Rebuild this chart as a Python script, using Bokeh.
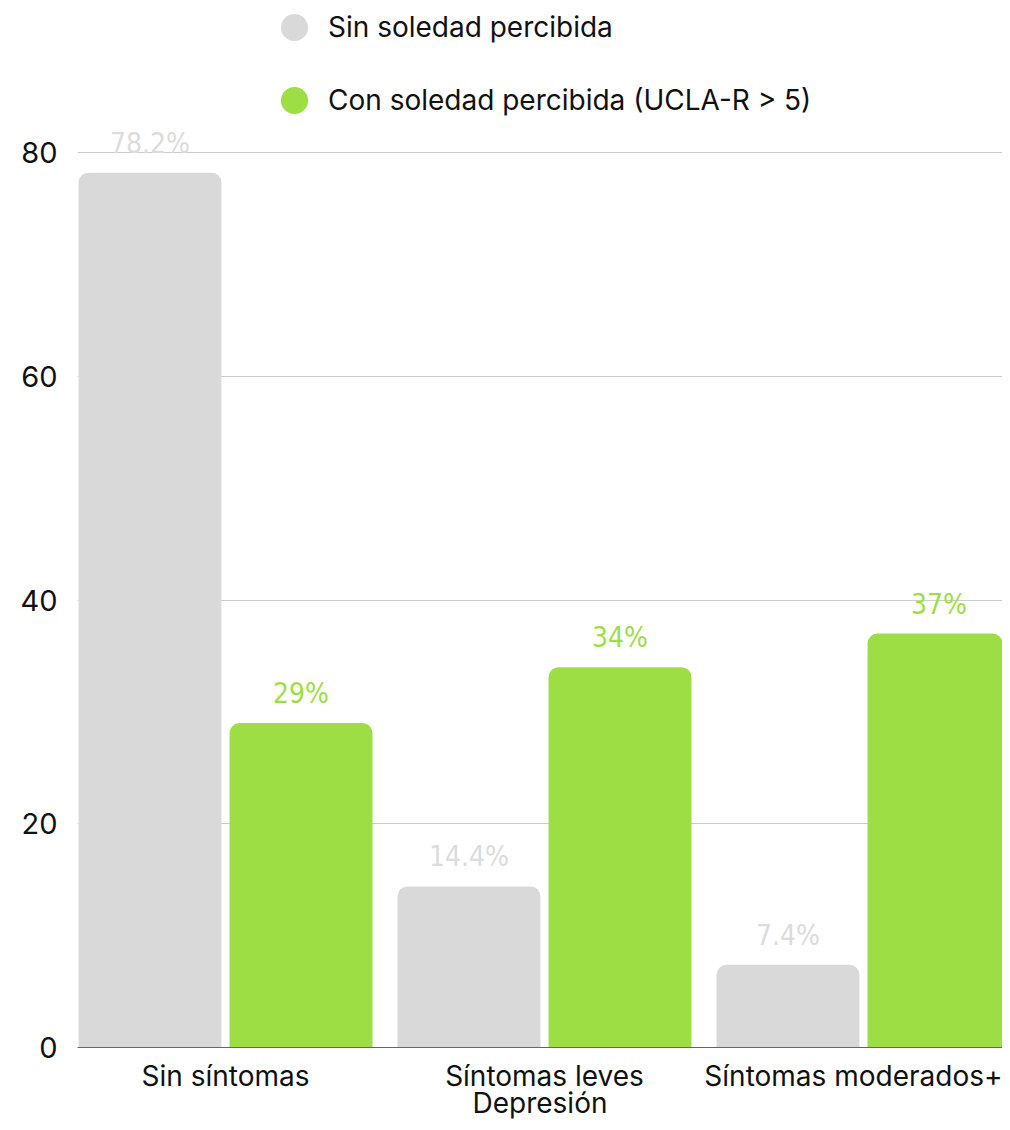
from bokeh.plotting import figure
from bokeh.models import ColumnDataSource, Range1d, FixedTicker, LabelSet, Legend, LegendItem
from bokeh.transform import dodge
from bokeh.embed import file_html
from bokeh.resources import INLINE
from bokeh.core.properties import value

# ---- data ----
categories = ["Sin síntomas", "Síntomas leves", "Síntomas moderados+"]
sin_soledad = [78.2, 14.4, 7.4]
con_soledad = [29, 34, 37]
sin_labels = ["78.2%", "14.4%", "7.4%"]
con_labels = ["29%", "34%", "37%"]
series_names = ["Sin soledad percibida", "Con soledad percibida (UCLA-R > 5)"]
y_ticks = [0, 20, 40, 60, 80]
x_axis_title = "Depresión"

# ---- style ----
GRAY = "#d9d9d9"
GRAY_LABEL = "#dcdcdc"
GREEN = "#9ede45"
FONT = "Inter"
NARROW = "'Noto Sans ExtraCondensed', 'Noto Sans Condensed', 'DejaVu Sans Condensed', sans-serif"
OFF = 0.2367
BW = 0.448

idx = list(range(len(categories)))
src = ColumnDataSource(dict(x=idx, sin=sin_soledad, con=con_soledad,
                            sin_lbl=sin_labels, con_lbl=con_labels))

p = figure(width=1002, height=1122,
           x_range=Range1d(-0.4639, 2.4357), y_range=Range1d(0, 93.59),
           output_backend="svg", toolbar_location=None,
           min_border_left=77, min_border_right=0, min_border_top=0,
           min_border_bottom=75)
p.outline_line_color = None
p.background_fill_color = "white"
p.border_fill_color = "white"

p.vbar(x=dodge("x", -OFF), top="sin", width=BW, source=src,
       fill_color=GRAY, line_color=None, border_radius=(10, 10, 0, 0))
p.vbar(x=dodge("x", OFF), top="con", width=BW, source=src,
       fill_color=GREEN, line_color=None, border_radius=(10, 10, 0, 0))

p.add_layout(LabelSet(x=dodge("x", -OFF), y="sin", text="sin_lbl", source=src,
                      y_offset=20, text_align="center", text_baseline="alphabetic",
                      text_font=value(NARROW), text_font_size=value("28px"),
                      text_color=GRAY_LABEL))
p.add_layout(LabelSet(x=dodge("x", OFF), y="con", text="con_lbl", source=src,
                      y_offset=20, text_align="center", text_baseline="alphabetic",
                      text_font=value(NARROW), text_font_size=value("28px"),
                      text_color=GREEN))

# legend proxies (zero-size markers, only their legend swatches show)
r1 = p.scatter(x=dodge("x", -OFF), y="sin", source=src, size=0, marker="circle",
               fill_color=GRAY, line_color=None)
r2 = p.scatter(x=dodge("x", OFF), y="con", source=src, size=0, marker="circle",
               fill_color=GREEN, line_color=None)
legend = Legend(items=[LegendItem(label=series_names[0], renderers=[r1], index=0),
                       LegendItem(label=series_names[1], renderers=[r2], index=0)],
                location=(183, 913), orientation="vertical",
                glyph_width=68, glyph_height=68, label_height=68, spacing=5,
                label_standoff=0, padding=0, margin=0,
                border_line_color=None, background_fill_alpha=0,
                label_text_font=FONT, label_text_font_size="28px",
                label_text_color="#111111")
p.add_layout(legend)

# axes
p.xgrid.visible = False
p.ygrid.ticker = FixedTicker(ticks=y_ticks)
p.ygrid.grid_line_color = "#cccccc"
p.ygrid.grid_line_width = 1

p.yaxis.ticker = FixedTicker(ticks=y_ticks)
p.yaxis.axis_line_color = None
p.yaxis.major_tick_line_color = None
p.yaxis.minor_tick_line_color = None
p.yaxis.major_label_standoff = 14
p.yaxis.major_label_text_font = FONT
p.yaxis.major_label_text_font_size = "29px"
p.yaxis.major_label_text_color = "#111111"

p.xaxis.ticker = FixedTicker(ticks=idx)
p.xaxis.major_label_overrides = {i: c for i, c in zip(idx, categories)}
p.xaxis.axis_line_color = "#666666"
p.xaxis.axis_line_width = 1
p.xaxis.major_tick_line_color = None
p.xaxis.minor_tick_line_color = None
p.xaxis.major_label_standoff = 5
p.xaxis.major_label_text_font = FONT
p.xaxis.major_label_text_font_size = "28px"
p.xaxis.major_label_text_color = "#111111"
p.xaxis.axis_label = x_axis_title
p.xaxis.axis_label_standoff = -10
p.xaxis.axis_label_text_font = FONT
p.xaxis.axis_label_text_font_size = "28px"
p.xaxis.axis_label_text_font_style = "normal"
p.xaxis.axis_label_text_color = "#111111"

open("out.html", "w").write(file_html(p, INLINE))
